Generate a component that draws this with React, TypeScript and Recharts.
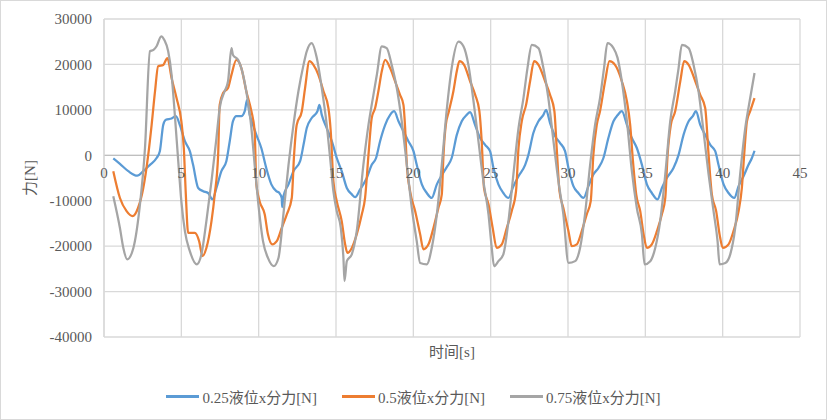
import React from "react";
import { LineChart, Line, XAxis, YAxis, CartesianGrid, ReferenceLine, Label } from "recharts";

const X_TICKS = [0, 5, 10, 15, 20, 25, 30, 35, 40, 45];
const Y_TICKS = [-40000, -30000, -20000, -10000, 0, 10000, 20000, 30000];
const SERIES_NAMES = ["0.25液位x分力[N]", "0.5液位x分力[N]", "0.75液位x分力[N]"];
const SERIES_COLORS = ["#5B9BD5", "#ED7D31", "#A5A5A5"];

const blueTime = [0.6,1.03,1.57,2.15,2.54,2.97,3.4,3.61,3.83,4.0,4.37,4.65,4.9,5.23,5.55,5.76,6.09,6.41,6.73,7.01,7.27,7.59,7.91,8.13,8.34,8.56,8.88,9.1,9.25,9.42,9.63,9.85,10.17,10.49,10.82,11.14,11.34,11.49,11.52,11.6,11.93,12.25,12.68,12.9,13.11,13.43,13.8,13.93,14.08,14.4,14.73,15.05,15.37,15.7,16.02,16.24,16.56,16.99,17.31,17.59,17.85,18.18,18.5,18.76,19.04,19.36,19.68,20.01,20.22,20.55,20.87,21.19,21.52,21.84,22.16,22.48,22.81,23.13,23.45,23.67,23.99,24.32,24.64,24.96,25.18,25.5,25.82,26.15,26.47,26.8,27.23,27.44,27.76,28.09,28.41,28.58,28.84,29.17,29.49,29.81,30.03,30.35,30.67,31.0,31.32,31.64,31.97,32.29,32.61,32.94,33.2,33.48,33.81,34.13,34.45,34.78,35.1,35.42,35.79,36.07,36.39,36.82,37.15,37.47,37.8,38.07,38.27,38.55,38.87,39.2,39.52,39.73,40.06,40.38,40.75,41.03,41.35,41.67,41.89,42.06];
const blueForce = [-700,-1900,-3500,-4500,-3500,-2100,-600,900,6700,7800,8100,8600,6700,3100,900,-2100,-7200,-7900,-8300,-9700,-7200,-3500,-1300,3100,7500,8600,8600,9700,12200,8900,6700,4500,1600,-2800,-6400,-7900,-8300,-9400,-11400,-9000,-6400,-3500,-1300,2300,6000,8200,9700,11100,8900,6000,3100,-600,-3500,-7200,-8600,-9200,-7500,-5000,-2100,-600,3100,6700,8900,9700,7500,5300,3100,900,-2100,-6400,-8300,-9400,-6400,-4400,-2600,-600,4500,7500,8900,9500,6700,3800,2300,900,-2800,-6400,-8300,-9400,-6800,-4600,-2100,100,4900,7500,8900,10000,7100,4200,2700,900,-2800,-6800,-8300,-9400,-6800,-4200,-2800,-600,3800,7500,8800,9700,6700,3800,1600,-2100,-6400,-8300,-9700,-7200,-5000,-2800,100,4500,7500,8600,9700,6700,4500,2300,900,-2100,-6400,-8300,-9400,-6800,-4600,-2100,-600,1000];

const orangeTime = [0.6,1.03,1.46,1.85,2.2,2.54,2.86,3.08,3.3,3.5,3.83,4.1,4.37,4.69,5.0,5.16,5.29,5.44,5.87,6.15,6.37,6.62,6.95,7.16,7.38,7.48,7.7,8.02,8.24,8.56,8.88,9.2,9.53,9.74,9.85,10.06,10.39,10.6,10.88,11.17,11.49,11.82,12.14,12.29,12.46,12.79,13.0,13.28,13.54,13.86,14.19,14.51,14.66,14.83,15.05,15.37,15.59,15.74,16.02,16.34,16.67,16.88,17.1,17.31,17.53,17.74,17.96,18.18,18.5,18.82,19.14,19.36,19.47,19.58,19.79,20.12,20.44,20.65,20.98,21.3,21.62,21.84,21.95,22.1,22.3,22.59,22.81,22.98,23.28,23.67,24.0,24.27,24.42,24.57,24.86,25.13,25.39,25.72,26.04,26.36,26.64,26.8,27.01,27.29,27.55,27.81,28.09,28.52,28.84,29.12,29.27,29.45,29.7,30.03,30.24,30.57,30.89,31.21,31.47,31.64,31.86,32.07,32.4,32.68,33.04,33.48,33.81,34.02,34.2,34.41,34.67,34.89,35.1,35.42,35.75,36.07,36.29,36.44,36.65,36.93,37.26,37.51,37.8,38.23,38.55,38.87,39.09,39.3,39.58,39.8,40.01,40.38,40.7,41.03,41.24,41.39,41.57,41.78,42.06];
const orangeForce = [-3500,-9400,-12300,-13400,-11600,-7200,100,6700,14100,19600,19900,21400,17000,12600,7500,1600,-8600,-17100,-17100,-18900,-22200,-20400,-14500,-8600,100,11100,13700,14800,17700,21000,19200,14100,9700,5300,-6400,-10100,-13000,-17400,-19600,-18900,-16000,-13000,-9400,100,6700,9700,14800,20700,19900,17700,14100,10400,5300,-5700,-10100,-14500,-19600,-21500,-20400,-17400,-13000,-9400,100,8200,10400,14100,18500,21000,19200,16300,13300,11100,6000,-2100,-7900,-12300,-17400,-20700,-19600,-16000,-11600,-8600,100,6700,9700,14100,18500,20700,19900,16300,13300,9700,3100,-7200,-10800,-16000,-20400,-19600,-16000,-12300,-7900,1600,7500,11100,16300,20700,19900,16300,13300,9700,1600,-7900,-11600,-16700,-20000,-19600,-16700,-13000,-10100,100,6700,9700,16300,20700,19900,16300,11900,6700,-1300,-8600,-12300,-17400,-20400,-19600,-16700,-13000,-9400,100,6700,9700,16300,20700,19900,16300,13300,10400,100,-8600,-12300,-17400,-20400,-19600,-16700,-12300,-7200,100,7500,9700,12600];

const grayTime = [0.6,1.03,1.25,1.5,1.9,2.3,2.65,2.97,3.2,3.4,3.7,3.9,4.15,4.37,4.58,4.8,5.0,5.23,5.55,6.0,6.3,6.62,6.95,7.27,7.48,7.8,8.02,8.24,8.34,8.67,8.88,9.2,9.53,9.74,9.96,10.28,10.6,10.97,11.28,11.6,11.93,12.25,12.57,12.9,13.11,13.43,13.76,14.08,14.4,14.62,14.83,15.05,15.31,15.48,15.55,15.7,16.02,16.34,16.77,17.1,17.42,17.64,17.96,18.28,18.6,18.93,19.25,19.58,19.9,20.22,20.44,20.87,21.19,21.52,21.84,22.16,22.48,22.92,23.24,23.56,23.89,24.21,24.53,24.86,25.07,25.22,25.5,25.82,26.15,26.47,26.8,27.12,27.38,27.66,28.09,28.41,28.73,29.06,29.38,29.7,30.03,30.46,30.78,31.1,31.43,31.75,32.07,32.33,32.55,32.94,33.2,33.48,33.81,34.13,34.45,34.78,34.95,35.32,35.64,35.96,36.29,36.61,36.93,37.15,37.36,37.8,38.12,38.44,38.76,39.09,39.41,39.67,39.8,40.17,40.49,40.81,41.13,41.46,41.78,42.06];
const grayForce = [-9000,-16000,-20400,-22900,-20400,-11600,1600,22900,23200,24000,26200,25400,22900,17700,8900,-1300,-10100,-16700,-21100,-24000,-21800,-14500,-5700,3800,10400,14100,16300,23600,22100,21000,19200,14100,6000,-2100,-10100,-18900,-22600,-24400,-22600,-13000,-2100,6700,14100,19900,22900,24700,21400,14800,6700,-600,-7900,-12300,-16000,-22600,-27700,-23300,-21800,-16700,-2100,6700,13300,17700,24000,23600,19900,14800,7500,-2100,-11600,-18900,-23700,-24000,-20400,-13000,-2100,10000,19200,25000,24000,19900,11900,3100,-5700,-13000,-20400,-24400,-23300,-21800,-14500,-4200,6000,12600,19200,24300,23600,19200,12600,3100,-5700,-13000,-23700,-23300,-20400,-13000,-2100,6700,12600,19200,24700,23600,21500,16300,7500,-3500,-11600,-17400,-24000,-23300,-20400,-14500,-4200,7500,14100,19200,24300,23600,19900,14100,5300,-4200,-12300,-18900,-24000,-23700,-21800,-16000,-4200,6000,12600,18100];

const toPoints = (ts: number[], vs: number[]) => ts.map((t, i) => ({ t, v: vs[i] }));
const SERIES_DATA = [toPoints(blueTime, blueForce), toPoints(orangeTime, orangeForce), toPoints(grayTime, grayForce)];

const W = 827;
const H = 420;
const M_TOP = 19;
const M_RIGHT = 27;
const M_BOTTOM = 53;
const X_AXIS_H = 30;
const Y_AXIS_W = 104;
const Y_MIN = -40000;
const Y_MAX = 30000;
const PLOT_H = H - M_TOP - M_BOTTOM - X_AXIS_H;
const ZERO_Y = M_TOP + (PLOT_H * Y_MAX) / (Y_MAX - Y_MIN);

const FONT = '"Liberation Serif", "Noto Sans CJK SC", serif';
const TEXT_COLOR = "#595959";

const XTick = (props: any) => {
  const { x, payload } = props;
  return (
    <text x={x} y={ZERO_Y + 18} textAnchor="middle" dominantBaseline="central" fill={TEXT_COLOR} fontSize={15} fontFamily={FONT}>
      {payload.value}
    </text>
  );
};

export default function App() {
  return (
    <div style={{ position: "absolute", left: 0, top: 0, width: W, height: H, background: "#fff" }}>
      <LineChart width={W} height={H} margin={{ top: M_TOP, right: M_RIGHT, bottom: M_BOTTOM, left: 0 }}>
        <CartesianGrid stroke="#d9d9d9" strokeWidth={1.3} />
        <XAxis
          type="number"
          dataKey="t"
          domain={[0, 45]}
          ticks={X_TICKS}
          allowDuplicatedCategory={false}
          axisLine={false}
          tickLine={false}
          height={X_AXIS_H}
          tick={<XTick />}
        >
          <Label value="时间[s]" position="center" fill={TEXT_COLOR} fontSize={15} fontFamily={FONT} />
        </XAxis>
        <YAxis
          type="number"
          domain={[Y_MIN, Y_MAX]}
          ticks={Y_TICKS}
          width={Y_AXIS_W}
          axisLine={{ stroke: "#d9d9d9", strokeWidth: 1.3 }}
          tickLine={false}
          tickMargin={6}
          tick={{ fill: TEXT_COLOR, fontSize: 15, fontFamily: FONT }}
        >
          <Label value="力[N]" angle={-90} position="center" dx={-22} fill={TEXT_COLOR} fontSize={15} fontFamily={FONT} />
        </YAxis>
        <ReferenceLine y={0} stroke="#bfbfbf" strokeWidth={1.3} />
        {SERIES_DATA.map((d, i) => (
          <Line
            key={SERIES_NAMES[i]}
            data={d}
            dataKey="v"
            name={SERIES_NAMES[i]}
            type="monotone"
            stroke={SERIES_COLORS[i]}
            strokeWidth={2.25}
            dot={false}
            isAnimationActive={false}
          />
        ))}
      </LineChart>
      <div
        style={{
          position: "absolute",
          left: 0,
          top: 386,
          width: W,
          display: "flex",
          justifyContent: "center",
          gap: 25,
          fontFamily: FONT,
          fontSize: 15,
          color: TEXT_COLOR,
        }}
      >
        {SERIES_NAMES.map((n, i) => (
          <div key={n} style={{ display: "flex", alignItems: "center", gap: 3 }}>
            <div style={{ width: 33, height: 2.25, background: SERIES_COLORS[i] }} />
            <span>{n}</span>
          </div>
        ))}
      </div>
      <div style={{ position: "absolute", left: 0, top: 0, width: W, height: H, boxSizing: "border-box", border: "1.5px solid #d9d9d9", pointerEvents: "none" }} />
    </div>
  );
}
